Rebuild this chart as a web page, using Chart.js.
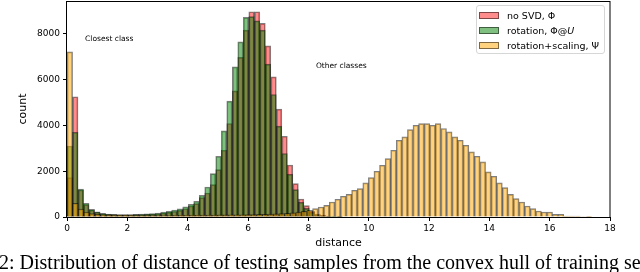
<!DOCTYPE html>
<html><head><meta charset="utf-8">
<script src="https://cdn.jsdelivr.net/npm/chart.js@4/dist/chart.umd.min.js"></script>
<style>
html,body{margin:0;padding:0;background:#fff;overflow:hidden;}
#wrap{position:relative;width:640px;height:272px;overflow:hidden;background:#fff;}
#c{position:absolute;left:0;top:0;}
#legend{position:absolute;left:476px;top:5px;width:129px;height:49px;box-sizing:border-box;border:1px solid #d6d6d6;border-radius:3px;background:rgba(255,255,255,0.85);font-family:'DejaVu Sans';font-size:9.5px;color:#000;}
.row{position:absolute;left:2px;height:15px;display:flex;align-items:center;white-space:nowrap;}
.sw{width:20px;height:7px;box-sizing:border-box;border:1px solid rgba(0,0,0,0.5);margin-right:8px;flex:none;}
#caption{position:absolute;left:-1px;top:251px;font-family:'Liberation Serif';font-size:20px;line-height:22px;white-space:nowrap;color:#000;}
</style></head>
<body>
<div id="wrap">
<canvas id="c" width="640" height="272"></canvas>
<div id="legend"></div>
<div id="caption">2: Distribution of distance of testing samples from the convex hull of training set</div>
</div>
<script>
// ---- data ----
const binWidthSVD = 0.1826;   // bin width of the two Φ histograms
const binWidthScaled = 0.185; // bin width of the Ψ histogram

const noSVD = [1720,5250,1180,540,300,200,140,115,105,100,100,100,105,110,115,125,140,170,200,240,290,360,480,585,847,1049,1416,2071,2915,4081,5506,6966,8160,8959,8959,8450,7473,6118,4707,3527,2272,1460,787,498,250,130,70,40,20,10];

const rotation = [3100,3700,1220,600,330,230,160,130,115,110,110,110,115,125,135,150,170,210,250,300,360,440,555,686,948,1311,1896,2653,3758,5056,6555,7648,8714,8750,8565,8160,6673,5349,3964,2771,1866,1197,642,380,200,100,50,30,15,8];

const rotScaled = [7210,600,350,220,150,115,95,85,80,75,70,70,65,65,65,65,65,65,65,70,70,70,75,75,80,80,85,90,90,95,100,100,105,110,115,120,130,140,150,165,185,210,245,292,365,437,510,656,773,904,991,1166,1239,1487,1720,1996,2258,2550,2915,3352,3496,3818,4007,4080,4080,4007,4080,3862,3715,3496,3352,3133,2841,2652,2404,1967,1778,1487,1283,991,802,656,481,365,263,219,219,117,117,44,44,44,20,10];

const seriesLabels = ['no SVD, Φ', 'rotation, Φ@U', 'rotation+scaling, Ψ'];
const seriesLegendHTML = ['no SVD, Φ', 'rotation, Φ@<i>U</i>', 'rotation+scaling, Ψ'];
const xTicks = [0,2,4,6,8,10,12,14,16,18];
const yTicks = [0,2000,4000,6000,8000];
const annotations = [
  {text:'Closest class', x:0.6, y:7765},
  {text:'Other classes', x:8.25, y:6586}
];

// ---- styles ----
const fills = ['rgba(255,0,0,0.45)','rgba(0,128,0,0.5)','rgba(255,165,0,0.5)'];
const edge = 'rgba(0,0,0,0.5)';
const FONT = 'DejaVu Sans';

function toPoints(vals, w){ return vals.map((v,i)=>({x:(i+0.5)*w, y:v})); }

const barCommon = {borderColor:edge, borderWidth:1, barPercentage:1, categoryPercentage:1, grouped:false};

const framePlugin = {
  id:'frame',
  afterDraw(chart){
    const {ctx, chartArea:a, scales} = chart;
    ctx.save();
    ctx.strokeStyle = '#000';
    ctx.lineWidth = 1;
    ctx.strokeRect(a.left-0.5, a.top+0.5, a.right-a.left+0.5, a.bottom-a.top);
    ctx.fillStyle = '#000';
    ctx.font = '7.5px "DejaVu Sans"';
    ctx.textAlign = 'left';
    ctx.textBaseline = 'middle';
    annotations.forEach(an=>{
      ctx.fillText(an.text, scales.x.getPixelForValue(an.x), scales.y.getPixelForValue(an.y));
    });
    ctx.restore();
  }
};

const tickGrid = {display:true, drawOnChartArea:false, drawTicks:true, tickLength:4, color:'#000', offset:false, lineWidth:1};

new Chart(document.getElementById('c'), {
  type:'bar',
  data:{
    datasets:[
      Object.assign({label:seriesLabels[0], data:toPoints(noSVD, binWidthSVD), xAxisID:'x2', backgroundColor:fills[0], order:3}, barCommon),
      Object.assign({label:seriesLabels[1], data:toPoints(rotation, binWidthSVD), xAxisID:'x2', backgroundColor:fills[1], order:2}, barCommon),
      Object.assign({label:seriesLabels[2], data:toPoints(rotScaled, binWidthScaled), xAxisID:'x', backgroundColor:fills[2], order:1}, barCommon)
    ]
  },
  options:{
    responsive:false,
    animation:false,
    devicePixelRatio:1,
    layout:{padding:{left:0, right:30, top:1, bottom:22}},
    plugins:{legend:{display:false}, tooltip:{enabled:false}},
    scales:{
      x:{type:'linear', min:0, max:18, offset:false,
        afterBuildTicks:s=>{s.ticks = xTicks.map(v=>({value:v}));},
        afterFit:s=>{s.height = 33; s.paddingLeft = 0; s.paddingRight = 0;},
        grid:tickGrid, border:{display:false},
        ticks:{font:{family:FONT, size:9}, color:'#000', padding:2, maxRotation:0, autoSkip:false, callback:v=>String(v)},
        title:{display:true, text:'distance', font:{family:FONT, size:11}, color:'#000', padding:0}
      },
      x2:{type:'linear', min:0, max:18, offset:false, display:false, grid:{offset:false}},
      y:{type:'linear', min:0, max:9430,
        afterBuildTicks:s=>{s.ticks = yTicks.map(v=>({value:v}));},
        afterFit:s=>{s.width = 67; s.paddingTop = 0; s.paddingBottom = 0;},
        grid:tickGrid, border:{display:false},
        ticks:{font:{family:FONT, size:9}, color:'#000', padding:3, autoSkip:false, callback:v=>String(v)},
        title:{display:true, text:'count', font:{family:FONT, size:11}, color:'#000', padding:{top:17, bottom:0}}
      }
    }
  },
  plugins:[framePlugin]
});

// legend (built from the series labels and colours)
const lg = document.getElementById('legend');
seriesLegendHTML.forEach((t,i)=>{
  const r = document.createElement('div');
  r.className = 'row';
  r.style.top = (1.8 + i*15) + 'px';
  r.innerHTML = '<span class="sw" style="background:'+fills[i]+'"></span><span>'+t+'</span>';
  lg.appendChild(r);
});
</script>
</body></html>
